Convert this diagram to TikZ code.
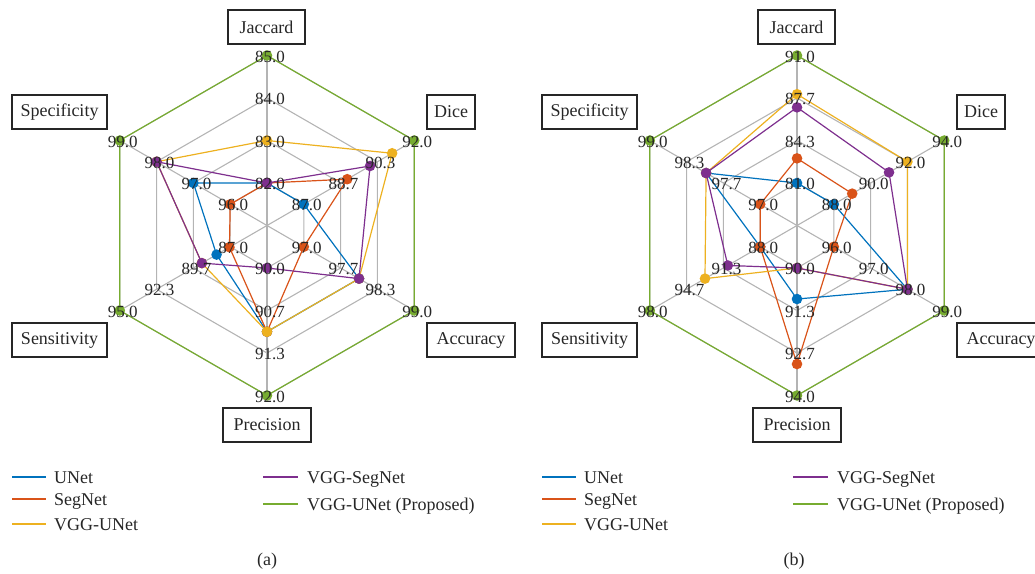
\documentclass[tikz,border=0pt]{standalone}
\usepackage{fontspec}
\setmainfont{Liberation Serif}
\definecolor{cblue}{HTML}{0072BD}
\definecolor{cred}{HTML}{D95319}
\definecolor{cyellow}{HTML}{EDB120}
\definecolor{cpurple}{HTML}{7E2F8E}
\definecolor{cgreen}{HTML}{77AC30}
\definecolor{cgrid}{RGB}{180,180,180}
\definecolor{ctext}{RGB}{38,38,38}
\def\rs{42.5}
\newcommand\radargrid{%
  \foreach \k in {1,2,3,4}
    \draw[gridline] (-90:{\k*\rs}) -- (-30:{\k*\rs}) -- (30:{\k*\rs}) -- (90:{\k*\rs}) -- (150:{\k*\rs}) -- (210:{\k*\rs}) -- cycle;
  \foreach \a in {-90,-30,30,90,150,210}
    \draw[gridline] (0,0) -- (\a:{4*\rs});
}
\newcommand\radarseries[7]{%
  \draw[dataline,#1] (-90:{#2*\rs}) -- (-30:{#3*\rs}) -- (30:{#4*\rs}) -- (90:{#5*\rs}) -- (150:{#6*\rs}) -- (210:{#7*\rs}) -- cycle;
  \foreach \aa/\vv in {-90/#2,-30/#3,30/#4,90/#5,150/#6,210/#7}
    \fill[#1] (\aa:{\vv*\rs}) circle (5.3);
}
\newcommand\radarlabels[5]{%
  \foreach \kk/\lbl in {1/#2,2/#3,3/#4,4/#5}
    \node[numlab] at (#1:{\kk*\rs}) {\lbl};
}
\tikzset{
  gridline/.style={draw=cgrid, line width=1.1pt},
  dataline/.style={line width=1.2pt, line join=round},
  numlab/.style={font=\fontsize{17}{20}\selectfont, text=ctext, inner sep=0pt, xshift=3pt, yshift=-1pt},
  axbox/.style={draw=ctext, line width=1.1pt, minimum height=34pt, inner sep=0pt, font=\fontsize{18}{21}\selectfont, text=ctext},
  legline/.style={line width=1.2pt},
  legtext/.style={anchor=base west, inner sep=0pt, font=\fontsize{18}{21}\selectfont, text=ctext},
  captext/.style={inner sep=0pt, font=\fontsize{18}{21}\selectfont, text=ctext}
}
\begin{document}
\begin{tikzpicture}[x=1pt,y=-1pt]
\useasboundingbox (0,0) rectangle (1035,573);

% ---------------- chart (a) ----------------
\begin{scope}[shift={(267,225.5)}]
  \radargrid
  \radarseries{cblue}{1}{1}{2.5}{2.5}{1.37}{2}
  \radarseries{cred}{1}{2.18}{1}{2.5}{1.02}{1}
  \radarseries{cyellow}{2}{3.4}{2.5}{2.5}{1.77}{3}
  \radarseries{cpurple}{1}{2.8}{2.5}{1}{1.77}{3}
  \radarseries{cgreen}{4}{4}{4}{4}{4}{4}
  \radarlabels{-90}{82.0}{83.0}{84.0}{85.0}
  \radarlabels{-30}{87.0}{88.7}{90.3}{92.0}
  \radarlabels{30}{97.0}{97.7}{98.3}{99.0}
  \radarlabels{90}{90.0}{90.7}{91.3}{92.0}
  \radarlabels{150}{87.0}{89.7}{92.3}{95.0}
  \radarlabels{210}{96.0}{97.0}{98.0}{99.0}
\end{scope}
\node[axbox, minimum width=77pt] (aJ) at (266.5,27) {Jaccard};
\node[axbox, minimum width=95pt] (aSp) at (59.5,112) {Specificity};
\node[axbox, minimum width=48pt] (aD) at (451,112) {Dice};
\node[axbox, minimum width=95pt] (aSe) at (59.5,340) {Sensitivity};
\node[axbox, minimum width=88pt] (aA) at (471,340) {Accuracy};
\node[axbox, minimum width=88pt] (aP) at (267,425) {Precision};

% ---------------- chart (b) ----------------
\begin{scope}[shift={(797,225.5)}]
  \radargrid
  \radarseries{cblue}{1}{1}{3}{1.73}{1}{2.47}
  \radarseries{cred}{1.58}{1.5}{1}{3.26}{1}{1}
  \radarseries{cyellow}{3.09}{3}{3}{1}{2.5}{2.47}
  \radarseries{cpurple}{2.78}{2.5}{3}{1}{1.88}{2.47}
  \radarseries{cgreen}{4}{4}{4}{4}{4}{4}
  \radarlabels{-90}{81.0}{84.3}{87.7}{91.0}
  \radarlabels{-30}{88.0}{90.0}{92.0}{94.0}
  \radarlabels{30}{96.0}{97.0}{98.0}{99.0}
  \radarlabels{90}{90.0}{91.3}{92.7}{94.0}
  \radarlabels{150}{88.0}{91.3}{94.7}{98.0}
  \radarlabels{210}{97.0}{97.7}{98.3}{99.0}
\end{scope}
\node[axbox, minimum width=77pt] (bJ) at (796.5,27) {Jaccard};
\node[axbox, minimum width=95pt] (bSp) at (589.5,112) {Specificity};
\node[axbox, minimum width=48pt] (bD) at (981,112) {Dice};
\node[axbox, minimum width=95pt] (bSe) at (589.5,340) {Sensitivity};
\node[axbox, minimum width=88pt] (bA) at (1001,340) {Accuracy};
\node[axbox, minimum width=88pt] (bP) at (797,425) {Precision};

% ---------------- legends ----------------
\foreach \ox/\nm in {0/a,530/b}{
  \draw[legline,cblue] (12+\ox,477) -- (46+\ox,477);
  \node[legtext] (\nm l1) at (54+\ox,483) {UNet};
  \draw[legline,cred] (12+\ox,499) -- (46+\ox,499);
  \node[legtext] (\nm l2) at (54+\ox,505) {SegNet};
  \draw[legline,cyellow] (12+\ox,524) -- (46+\ox,524);
  \node[legtext] (\nm l3) at (54+\ox,530) {VGG-UNet};
  \draw[legline,cpurple] (263+\ox,477) -- (298+\ox,477);
  \node[legtext] (\nm l4) at (307+\ox,483) {VGG-SegNet};
  \draw[legline,cgreen] (263+\ox,504) -- (298+\ox,504);
  \node[legtext] (\nm l5) at (307+\ox,510) {VGG-UNet (Proposed)};
}
\node[captext] (capa) at (267,561) {(a)};
\node[captext] (capb) at (794,561) {(b)};
\end{tikzpicture}
\end{document}
